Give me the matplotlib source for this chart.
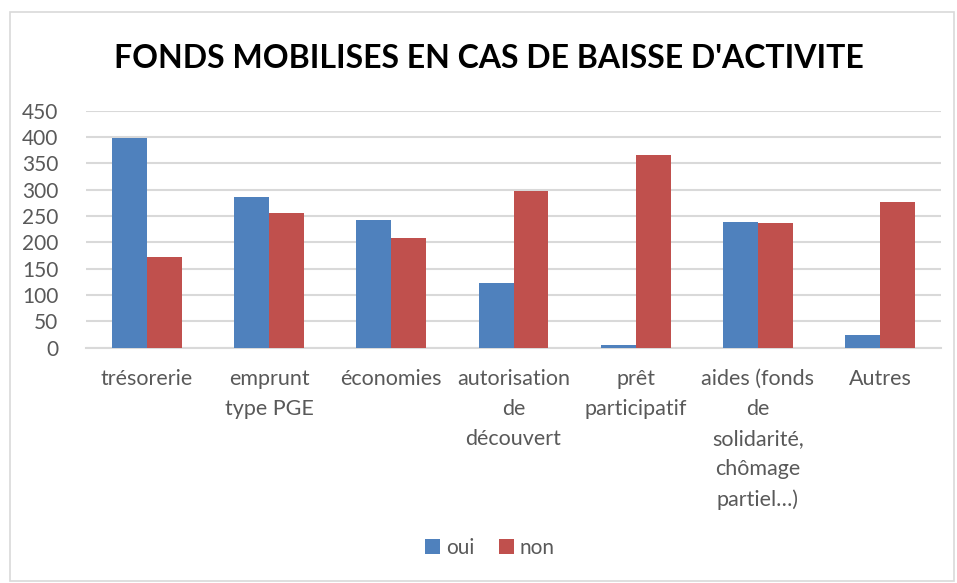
import matplotlib
matplotlib.use('Agg')
import matplotlib.pyplot as plt
import numpy as np
from matplotlib.patches import Rectangle

plt.rcParams['font.family'] = ['Lato', 'DejaVu Sans']

categories = ['trésorerie', 'emprunt\ntype PGE', 'économies', 'autorisation\nde\ndécouvert',
              'prêt\nparticipatif', 'aides (fonds\nde\nsolidarité,\nchômage\npartiel…)', 'Autres']
oui = [399, 286, 243, 122, 5, 238, 25]
non = [172, 256, 208, 297, 365, 236, 277]
yticks = [0, 50, 100, 150, 200, 250, 300, 350, 400, 450]

blue = '#4F81BD'
red = '#C0504D'
grey_txt = '#595959'
grid_c = '#D9D9D9'

fig = plt.figure(figsize=(9.57, 5.83), dpi=100)
fig.patches.append(Rectangle((10 / 957, 2 / 583), 944 / 957, 569 / 583, transform=fig.transFigure,
                             fill=False, edgecolor=grid_c, linewidth=1.2))

ax = fig.add_axes([86 / 957, 235.3 / 583, 855 / 957, 237 / 583])
x = np.arange(len(categories))
w = 1 / 3.5
ax.bar(x - w / 2, oui, width=w, color=blue, label='oui', zorder=3)
ax.bar(x + w / 2, non, width=w, color=red, label='non', zorder=3)

ax.set_xlim(-0.5, len(categories) - 0.5)
ax.set_ylim(0, 450)
ax.set_yticks(yticks)
ax.yaxis.grid(True, color=grid_c, linewidth=1.5, zorder=0)
ax.set_axisbelow(True)
for s in ['top', 'right', 'left']:
    ax.spines[s].set_visible(False)
ax.spines['bottom'].set_color(grid_c)
ax.spines['bottom'].set_linewidth(1.5)
ax.tick_params(axis='both', length=0, colors=grey_txt)
ax.tick_params(axis='y', pad=20, labelsize=15)
ax.tick_params(axis='x', pad=15.5, labelsize=15.5)
ax.set_xticks(x)
ax.set_xticklabels(categories, linespacing=1.62, va='top')

fig.text(0.511, 0.9, "FONDS MOBILISES EN CAS DE BAISSE D'ACTIVITE", ha='center', va='center',
         fontsize=23, fontweight='bold', color='black')

fig.legend(loc='center', bbox_to_anchor=(0.512, 0.06), ncol=2, frameon=False, fontsize=15,
           handlelength=0.7, handleheight=0.7, handletextpad=0.3, columnspacing=1.2,
           labelcolor=grey_txt)

fig.savefig('out.png', dpi=100)
